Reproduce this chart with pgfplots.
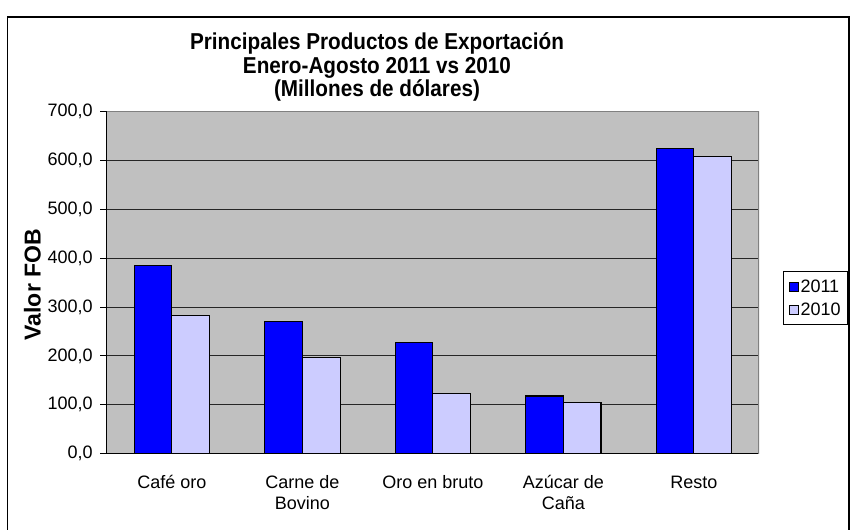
\documentclass[border=0pt]{standalone}
\usepackage{fontspec}
\setmainfont{Liberation Sans}
\usepackage{pgfplots}
\pgfplotsset{compat=1.18}
\definecolor{bar11}{HTML}{0000FF}
\definecolor{bar10}{HTML}{CCCCFF}
\definecolor{plotbg}{HTML}{C0C0C0}
\definecolor{edgegray}{HTML}{808080}

\begin{document}
\begin{tikzpicture}[x=1pt,y=1pt]
  \path[use as bounding box] (0,0) rectangle (857,530);
  % chart frame
  \draw[line width=1.2pt] (7.5,0) -- (7.5,513) -- (849,513) -- (849,0);

  \begin{axis}[
      at={(106.7pt,76.3pt)}, anchor=south west,
      width=652.3pt, height=342pt, scale only axis,
      axis background/.style={fill=plotbg},
      axis x line*=bottom, axis y line*=left,
      axis line style={line width=1.2pt, black},
      xmin=-0.5, xmax=4.5, ymin=0, ymax=700,
      ytick={0,100,...,700},
      ymajorgrids,
      grid style={line width=1pt, black!85},
      tick align=outside,
      ytick pos=left,
      major tick length=6.5pt,
      tick style={line width=1pt, black},
      /pgf/number format/assume math mode=true,
      ticklabel style={font=\fontsize{18}{21}\selectfont},
      yticklabel style={xshift=-4pt,
        /pgf/number format/fixed, /pgf/number format/fixed zerofill,
        /pgf/number format/precision=1, /pgf/number format/use comma},
      xtick={0,1,2,3,4},
      xticklabels={Café oro, {Carne de\\Bovino}, Oro en bruto, {Azúcar de\\Caña}, Resto},
      xticklabel style={align=center, yshift=-12pt},
      x tick style={draw=none},
      extra x ticks={-0.5,0.5,1.5,2.5,3.5,4.5},
      extra x tick labels={},
      extra x tick style={tick style={draw=black, line width=1pt}, major tick length=5pt},
      ylabel={\textbf{Valor FOB}},
      ylabel style={font=\fontsize{23}{26}\selectfont},
      every axis y label/.append style={at={(ticklabel cs:0.5)}, xshift=-2pt},
      ybar=0pt, bar width=37.7pt,
      legend style={at={(rel axis cs:1.0368,0.534)}, anchor=north west,
        draw=black, line width=1pt, font=\fontsize{18}{21}\selectfont,
        inner xsep=5pt, inner ysep=6pt, row sep=5pt,
        /tikz/every even column/.append style={column sep=3pt}},
      legend cell align=left,
    ]
    \addplot[fill=bar11, draw=black, line width=1.1pt,
      legend image code/.code={\draw[fill=bar11, draw=black, line width=1pt] (0pt,-4.5pt) rectangle (9pt,4.5pt);}]
      coordinates {(0,385) (1,270) (2,227) (3,118) (4,625)};
    \addlegendentry{2011}
    \addplot[fill=bar10, draw=black, line width=1.1pt,
      legend image code/.code={\draw[fill=bar10, draw=black, line width=1pt] (0pt,-4.5pt) rectangle (9pt,4.5pt);}]
      coordinates {(0,282) (1,197) (2,124) (3,105) (4,609)};
    \addlegendentry{2010}
    \draw[edgegray, line width=1.5pt] (rel axis cs:0,1) -- (rel axis cs:1,1) -- (rel axis cs:1,0);
  \end{axis}

  % title, three lines, condensed bold
  \begin{scope}[every node/.style={font=\bfseries\fontsize{23}{26}\selectfont, anchor=base, inner sep=0pt}]
    \node at (377,480) {\scalebox{0.9}[1]{Principales Productos de Exportación}};
    \node at (377,456) {\scalebox{0.9}[1]{Enero-Agosto 2011 vs 2010}};
    \node at (377,433) {\scalebox{0.9}[1]{(Millones de dólares)}};
  \end{scope}
\end{tikzpicture}
\end{document}
